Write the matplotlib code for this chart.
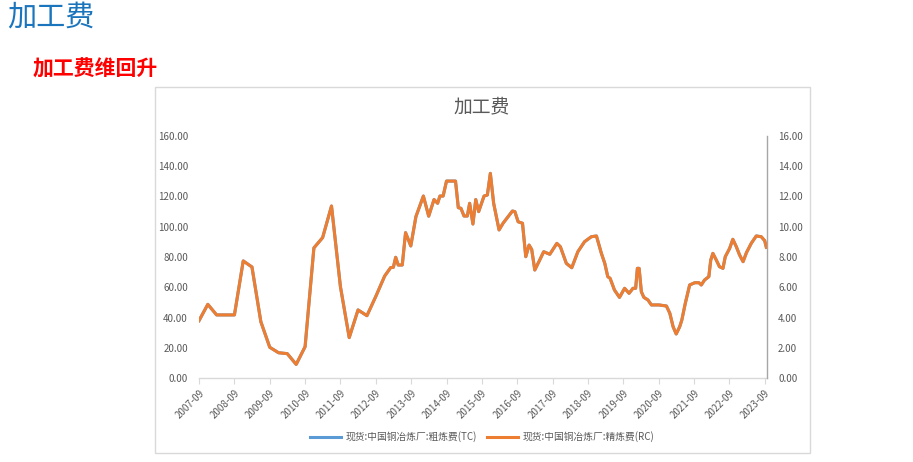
import matplotlib
matplotlib.use("Agg")
import matplotlib.pyplot as plt
import matplotlib.dates as mdates
from matplotlib.patches import Rectangle
from matplotlib.lines import Line2D
import pandas as pd

plt.rcParams['font.family'] = ['Noto Sans CJK SC', 'DejaVu Sans']

dates = [
    "2007-09-01", "2007-12-01", "2008-03-01", "2008-09-01", "2008-12-01", "2009-03-01",
    "2009-06-01", "2009-09-01", "2009-12-01", "2010-03-01", "2010-06-01", "2010-09-01",
    "2010-12-01", "2011-03-01", "2011-06-01", "2011-09-01", "2011-12-01", "2012-03-01",
    "2012-06-01", "2012-09-01", "2012-12-01", "2013-02-01", "2013-03-01", "2013-03-25",
    "2013-04-20", "2013-06-01", "2013-07-05", "2013-08-28", "2013-10-20", "2014-01-05",
    "2014-03-01", "2014-04-25", "2014-06-01", "2014-06-25", "2014-07-28", "2014-09-01",
    "2014-12-03", "2015-01-01", "2015-01-28", "2015-03-01", "2015-04-04", "2015-04-28",
    "2015-06-01", "2015-06-30", "2015-07-30", "2015-09-24", "2015-10-28", "2015-11-28",
    "2016-01-01", "2016-02-26", "2016-04-07", "2016-07-13", "2016-08-07", "2016-09-10",
    "2016-10-25", "2016-11-28", "2017-01-01", "2017-01-28", "2017-03-01", "2017-04-21",
    "2017-06-01", "2017-08-03", "2017-10-15", "2017-11-20", "2018-01-21", "2018-03-18",
    "2018-05-20", "2018-07-28", "2018-10-06", "2018-11-28", "2019-01-18", "2019-02-22",
    "2019-03-25", "2019-04-18", "2019-06-02", "2019-07-24", "2019-09-15", "2019-10-31",
    "2019-12-10", "2020-01-07", "2020-01-25", "2020-02-12", "2020-03-06", "2020-04-01",
    "2020-05-13", "2020-06-18", "2020-09-04", "2020-11-20", "2020-12-25", "2021-01-28",
    "2021-03-01", "2021-04-06", "2021-04-28", "2021-06-03", "2021-07-18", "2021-09-09",
    "2021-10-22", "2021-11-15", "2021-12-19", "2022-02-01", "2022-02-21", "2022-03-15",
    "2022-04-19", "2022-05-22", "2022-06-27", "2022-07-21", "2022-09-04", "2022-10-07",
    "2022-11-12", "2022-12-16", "2023-01-21", "2023-02-24", "2023-04-15", "2023-06-06",
    "2023-07-28", "2023-09-01", "2023-09-18",
]

# TC, USD/t (left axis)
tc_values = [
    37.9, 48.7, 41.7, 41.7, 77.4, 73.4,
    37.2, 20.3, 16.7, 16.1, 9.0, 20.7,
    86.0, 92.8, 113.7, 60.4, 26.7, 45.0,
    41.2, 54.0, 67.4, 73.0, 73.2, 79.8,
    74.7, 74.7, 96.1, 87.3, 106.7, 120.3,
    107.0, 118.0, 115.5, 120.3, 120.3, 130.2,
    130.2, 112.6, 112.2, 107.1, 107.1, 115.5,
    101.8, 118.0, 110.0, 120.3, 121.0, 135.3,
    115.5, 97.9, 102.3, 110.4, 110.0, 103.3,
    102.3, 80.2, 87.9, 85.0, 71.4, 78.0,
    83.5, 81.8, 89.0, 86.8, 75.8, 72.9,
    83.5, 90.1, 93.4, 93.9, 82.4, 75.8,
    67.0, 65.9, 58.2, 53.3, 59.3, 56.0,
    59.3, 59.3, 72.5, 72.5, 57.0, 53.3,
    51.6, 48.3, 48.3, 47.6, 42.8, 33.9,
    29.1, 33.9, 38.3, 49.4, 61.5, 63.0,
    63.0, 61.5, 64.8, 67.0, 78.0, 82.4,
    78.0, 73.6, 72.5, 80.2, 85.7, 91.7,
    86.8, 81.3, 76.9, 82.8, 89.0, 93.9,
    93.4, 90.8, 86.4,
]
# RC, US cents/lb (right axis) -- quoted as TC/10
rc_values = [v / 10 for v in tc_values]

tick_labels = ["2007-09", "2008-09", "2009-09", "2010-09", "2011-09", "2012-09",
               "2013-09", "2014-09", "2015-09", "2016-09", "2017-09", "2018-09",
               "2019-09", "2020-09", "2021-09", "2022-09", "2023-09"]
left_ticks = [0, 20, 40, 60, 80, 100, 120, 140, 160]
right_ticks = [0, 2, 4, 6, 8, 10, 12, 14, 16]

series_names = ["现货:中国铜冶炼厂:粗炼费(TC)", "现货:中国铜冶炼厂:精炼费(RC)"]

x = pd.to_datetime(dates)
tick_pos = pd.to_datetime([t + "-01" for t in tick_labels])

W, H = 913, 462
fig = plt.figure(figsize=(W / 100, H / 100), dpi=100)

# chart frame
fig.patches.append(Rectangle((155 / W, 1 - 453 / H), (810 - 155) / W, (453 - 87) / H,
                             transform=fig.transFigure, fill=False,
                             edgecolor="#D9D9D9", linewidth=1.0))

fig.text(7 / W, 1 - 18 / H, "加工费", color="#1B75BC", fontsize=21, va="center", ha="left")
fig.text(33 / W, 1 - 69 / H, "加工费维回升", color="#FF0000", fontsize=15,
         fontweight="bold", va="center", ha="left")
fig.text(482 / W, 1 - 107 / H, "加工费", color="#595959", fontsize=13.5,
         va="center", ha="center")

ax = fig.add_axes([199 / W, 1 - 378 / H, (767 - 199) / W, (378 - 136) / H])
ax2 = ax.twinx()

ax.plot(x, tc_values, color="#5B9BD5", linewidth=2.2, zorder=2)
ax2.plot(x, rc_values, color="#ED7D31", linewidth=2.2, zorder=3)

xmin = pd.Timestamp("2007-09-01")
xmax = pd.Timestamp("2023-09-25")
ax.set_xlim(xmin, xmax)
ax.set_ylim(0, 160)
ax2.set_ylim(0, 16)

ax.set_yticks(left_ticks)
ax.set_yticklabels([f"{v:.2f}" for v in left_ticks])
ax2.set_yticks(right_ticks)
ax2.set_yticklabels([f"{v:.2f}" for v in right_ticks])

ax.set_xticks(tick_pos)
ax.set_xticklabels(tick_labels, rotation=45, ha="right", rotation_mode="anchor")

for a in (ax, ax2):
    a.set_facecolor("none")
    for s in ("top", "left", "right"):
        a.spines[s].set_visible(False)
    a.spines["bottom"].set_visible(False)
ax2.spines["right"].set_visible(True)
ax2.spines["right"].set_color("#A6A6A6")
ax2.spines["right"].set_linewidth(1.0)
ax.spines["bottom"].set_visible(True)
ax.spines["bottom"].set_color("#D9D9D9")
ax.spines["bottom"].set_linewidth(1.0)

ax.tick_params(axis="y", length=0, labelsize=7, labelcolor="#595959", pad=8)
ax2.tick_params(axis="y", length=0, labelsize=7, labelcolor="#595959", pad=8)
ax.tick_params(axis="x", length=4, color="#D9D9D9", labelsize=7, labelcolor="#595959", pad=3)

handles = [Line2D([], [], color="#5B9BD5", linewidth=2.2),
           Line2D([], [], color="#ED7D31", linewidth=2.2)]
fig.legend(handles, series_names, loc="center", bbox_to_anchor=(482 / W, 1 - 437 / H),
           ncol=2, frameon=False, fontsize=7, labelcolor="#595959",
           handlelength=3.2, columnspacing=1.0, handletextpad=0.5)

fig.savefig("out.png", dpi=100, facecolor="white")
